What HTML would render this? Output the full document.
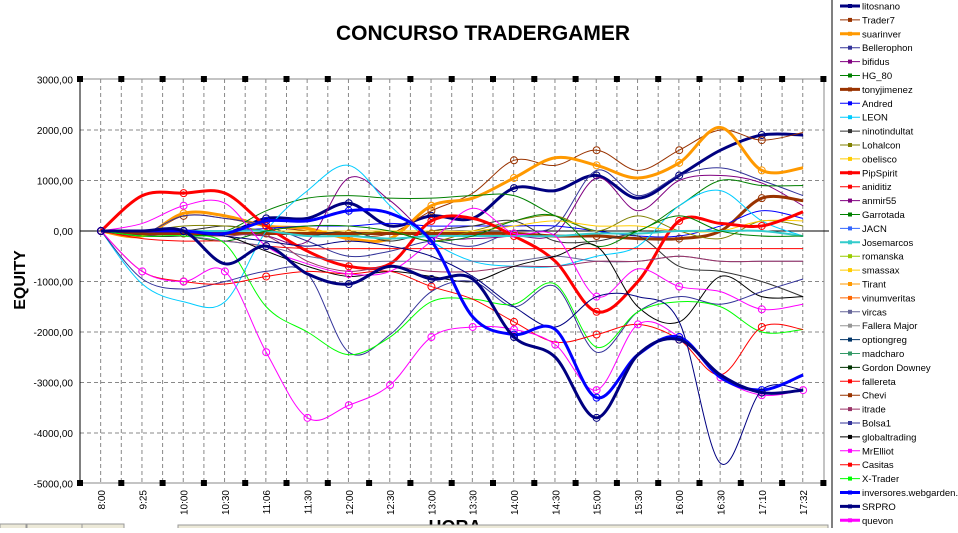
<!DOCTYPE html>
<html><head><meta charset="utf-8"><style>
body{margin:0;background:#fff;width:958px;height:528px;overflow:hidden;font-family:"Liberation Sans",sans-serif}
</style></head><body>
<svg id="s" width="958" height="528" xmlns="http://www.w3.org/2000/svg" font-family="Liberation Sans, sans-serif">
<rect width="958" height="528" fill="#fff"/>
<text x="483" y="40" font-size="21" font-weight="bold" text-anchor="middle">CONCURSO TRADERGAMER</text>
<text transform="translate(25,280) rotate(-90)" font-size="16" font-weight="bold" text-anchor="middle">EQUITY</text>
<g id="grid"></g><g id="ser"></g><g id="leg"></g>
<text x="455" y="533" font-size="18" font-weight="bold" text-anchor="middle">HORA</text>
<rect x="0" y="524" width="26" height="6" fill="#ece9d8" stroke="#999"/>
<rect x="27" y="524" width="55" height="6" fill="#ece9d8" stroke="#999"/>
<rect x="82" y="524" width="42" height="6" fill="#ece9d8" stroke="#999"/>
<rect x="178" y="525" width="650" height="6" fill="#ece9d8" stroke="#999"/>
</svg>
<script>
const NS="http://www.w3.org/2000/svg";
function el(p,t,a,txt){const e=document.createElementNS(NS,t);for(const k in a)e.setAttribute(k,a[k]);if(txt!==undefined)e.textContent=txt;p.appendChild(e);return e;}
const g=document.getElementById('grid'),sg=document.getElementById('ser'),lg=document.getElementById('leg');
const L=80,R=824,T=79,B=483;
const X=i=>101+i*41.3, Y=v=>231-v*0.0505;
for(let i=0;i<=36;i++){const x=L+i*20.65;if(i>0&&i<36)el(g,'line',{x1:x,y1:T,x2:x,y2:B,stroke:'#888','stroke-dasharray':'4,3'});}
for(let v=-4000;v<=2000;v+=1000){if(v)el(g,'line',{x1:L,y1:Y(v),x2:R,y2:Y(v),stroke:'#888','stroke-dasharray':'4,3'});}
el(g,'line',{x1:L,y1:T,x2:R,y2:T,stroke:'#888'});el(g,'line',{x1:L,y1:B,x2:R,y2:B,stroke:'#888'});
el(g,'line',{x1:R,y1:T,x2:R,y2:B,stroke:'#888'});
el(g,'line',{x1:L,y1:T,x2:L,y2:B,stroke:'#000'});el(g,'line',{x1:L,y1:Y(0),x2:R+5,y2:Y(0),stroke:'#000'});
for(let i=0;i<=18;i++){const x=L+i*41.3;el(g,'rect',{x:x-3,y:T-3,width:6,height:6,fill:'#000'});el(g,'rect',{x:x-3,y:B-3,width:6,height:6,fill:'#000'});}
for(let v=-5000;v<=3000;v+=1000){el(g,'text',{x:73,y:Y(v)+4,'font-size':10,'text-anchor':'end'},(v<0?'-':'')+Math.abs(v)+',00');}
const cats=['8:00','9:25','10:00','10:30','11:06','11:30','12:00','12:30','13:00','13:30','14:00','14:30','15:00','15:30','16:00','16:30','17:10','17:32'];
cats.forEach((c,i)=>el(g,'text',{transform:`translate(${X(i)+4},${490}) rotate(-90)`,'font-size':10,'text-anchor':'end'},c));
const S=[
['litosnano','#000080',3,[0,-50,0,-50,250,250,550,100,300,250,850,800,1100,650,1100,1600,1900,1900]],
['Trader7','#993300',1,[0,-100,300,250,100,0,-100,-50,400,750,1400,1300,1600,1200,1600,2000,1800,1950]],
['suarinver','#ff9900',3,[0,-100,350,300,100,50,-150,-150,500,650,1050,1450,1300,1050,1350,2050,1200,1250]],
['Bellerophon','#333399',1,[0,-50,300,250,100,-200,-500,-400,-200,-300,0,100,1200,700,1100,1250,1000,700]],
['bifidus','#800080',1,[0,-100,0,-50,-100,-200,1050,600,-100,-150,-100,-50,1050,400,1000,1100,950,500]],
['HG_80','#008000',1,[0,0,0,0,400,650,700,650,650,700,700,300,0,0,500,1000,900,900]],
['tonyjimenez','#993300',3,[0,-50,-50,-50,-50,-50,-50,-50,-50,-50,-50,-100,-100,-150,-150,0,650,600]],
['Andred','#0000ff',1,[0,0,0,0,50,100,100,150,100,100,100,100,0,-100,-100,100,400,250]],
['LEON','#00ccff',1,[0,-1050,-1400,-1400,0,800,1300,500,-200,-600,-700,-700,-500,-300,500,800,200,-100]],
['ninotindultat','#333333',1,[0,0,0,100,0,-100,0,-200,0,100,200,-200,-200,-100,-700,-800,-1000,-1300]],
['Lohalcon','#808000',1,[0,0,100,100,0,-100,-100,0,-200,0,200,300,0,300,0,-150,200,100]],
['obelisco','#ffcc00',1,[0,0,0,0,0,0,0,0,0,0,100,200,100,100,0,0,200,200]],
['PipSpirit','#ff0000',3,[0,700,750,750,100,-400,-700,-650,200,250,-100,-600,-1600,-1000,200,150,100,380]],
['Josemarcos','#33cccc',2,[0,0,0,0,0,-100,-100,-150,-100,-100,-100,-100,-50,-50,0,0,0,-100]],
['Garrotada','#008000',1,[0,-100,-100,-200,0,100,100,0,-200,-100,200,300,-300,0,300,0,-100,-100]],
['fallereta','#ff0000',1,[0,-150,-200,-200,-300,-350,-350,-350,-350,-350,-350,-350,-350,-350,-350,-350,-350,-350]],
['vircas','#666699',1,[0,-100,-100,-200,-300,-500,-600,-600,-600,-600,-600,-500,-600,-600,-500,-600,-600,-600]],
['itrade','#993366',1,[0,-100,-100,-100,-100,-600,-800,-700,-800,-800,-700,-700,-600,-600,-500,-600,-600,-600]],
['globaltrading','#000000',1,[0,-100,-100,-100,-400,-700,-900,-800,-900,-1000,-700,-500,-300,-1500,-1800,-900,-1300,-1300]],
['Bolsa1','#333399',1,[0,-950,-1150,-1000,-800,-850,-2400,-2050,-1200,-1000,-1500,-1100,-2400,-1600,-1300,-1450,-1200,-950]],
['X-Trader','#00ff00',1,[0,-100,-100,-250,-1500,-2000,-2450,-2100,-1400,-1350,-1450,-1050,-2300,-1600,-1400,-1500,-2000,-1950]],
['Casitas','#ff0000',1,[0,-800,-1000,-1050,-900,-800,-850,-800,-1100,-1350,-1800,-2200,-2050,-1850,-2150,-2850,-1900,-1950]],
['MrElliot','#ff00ff',1,[0,150,500,550,-300,-650,-850,-800,-200,450,-50,-100,-1300,-750,-1100,-1200,-1550,-1450]],
['quevon','#ff00ff',1,[0,-800,-1000,-800,-2400,-3700,-3450,-3050,-2100,-1900,-1950,-2250,-3150,-1850,-2100,-2900,-3250,-3150]],
['optiongreg','#000080',1,[0,0,0,-100,-200,-300,-200,-300,-500,-900,-1500,-1900,-1300,-1300,-1800,-4600,-3150,-3150]],
['inversores','#0000ff',3,[0,0,0,-50,200,200,400,350,-200,-1700,-2050,-1950,-3300,-2450,-2100,-2900,-3150,-2850]],
['SRPRO','#000080',3,[0,0,0,-650,-300,-850,-1050,-700,-950,-950,-2100,-2500,-3700,-2450,-2150,-2850,-3200,-3150]]
];
S.forEach(s=>{const p=s[3].map((v,i)=>[X(i),Y(v)]);let d=`M${p[0][0]},${p[0][1]}`;
for(let i=0;i<p.length-1;i++){const p0=p[i-1]||p[i],p1=p[i],p2=p[i+1],p3=p[i+2]||p2;
d+=` C${p1[0]+(p2[0]-p0[0])/6},${p1[1]+(p2[1]-p0[1])/6} ${p2[0]-(p3[0]-p1[0])/6},${p2[1]-(p3[1]-p1[1])/6} ${p2[0]},${p2[1]}`;}
el(sg,'path',{d,fill:'none',stroke:s[1],'stroke-width':s[2]});
if(s[2]==3||['Trader7','MrElliot','quevon','Casitas'].includes(s[0]))p.forEach((q,i)=>{if(i%2==0||s[0]=='quevon')el(sg,'circle',{cx:q[0],cy:q[1],r:3.5,fill:'none',stroke:s[1],'stroke-width':1});});
});
el(lg,'rect',{x:832,y:-1,width:127,height:530,fill:'#fff',stroke:'#000'});
const LG=[['litosnano','#000080',3],['Trader7','#993300',1],['suarinver','#ff9900',3],['Bellerophon','#333399',1],['bifidus','#800080',1],['HG_80','#008000',1],['tonyjimenez','#993300',3],['Andred','#0000ff',1],['LEON','#00ccff',1],['ninotindultat','#333333',1],['Lohalcon','#808000',1],['obelisco','#ffcc00',1],['PipSpirit','#ff0000',3],['aniditiz','#ff0000',1],['anmir55','#800080',1],['Garrotada','#008000',1],['JACN','#3366ff',1],['Josemarcos','#33cccc',2],['romanska','#99cc00',1],['smassax','#ffcc00',1],['Tirant','#ff9900',1],['vinumveritas','#ff6600',1],['vircas','#666699',1],['Fallera Major','#969696',1],['optiongreg','#003366',1],['madcharo','#339966',1],['Gordon Downey','#003300',1],['fallereta','#ff0000',1],['Chevi','#993300',1],['itrade','#993366',1],['Bolsa1','#333399',1],['globaltrading','#000000',1],['MrElliot','#ff00ff',1],['Casitas','#ff0000',1],['X-Trader','#00ff00',1],['inversores.webgarden.com','#0000ff',3],['SRPRO','#000080',3],['quevon','#ff00ff',3]];
LG.forEach((l,i)=>{const y=6+i*13.9;el(lg,'line',{x1:840,y1:y,x2:860,y2:y,stroke:l[1],'stroke-width':l[2]});el(lg,'rect',{x:848,y:y-2,width:4,height:4,fill:l[1]});el(lg,'text',{x:862,y:y+3.5,'font-size':9.5},l[0]);});
</script>
</body></html>
